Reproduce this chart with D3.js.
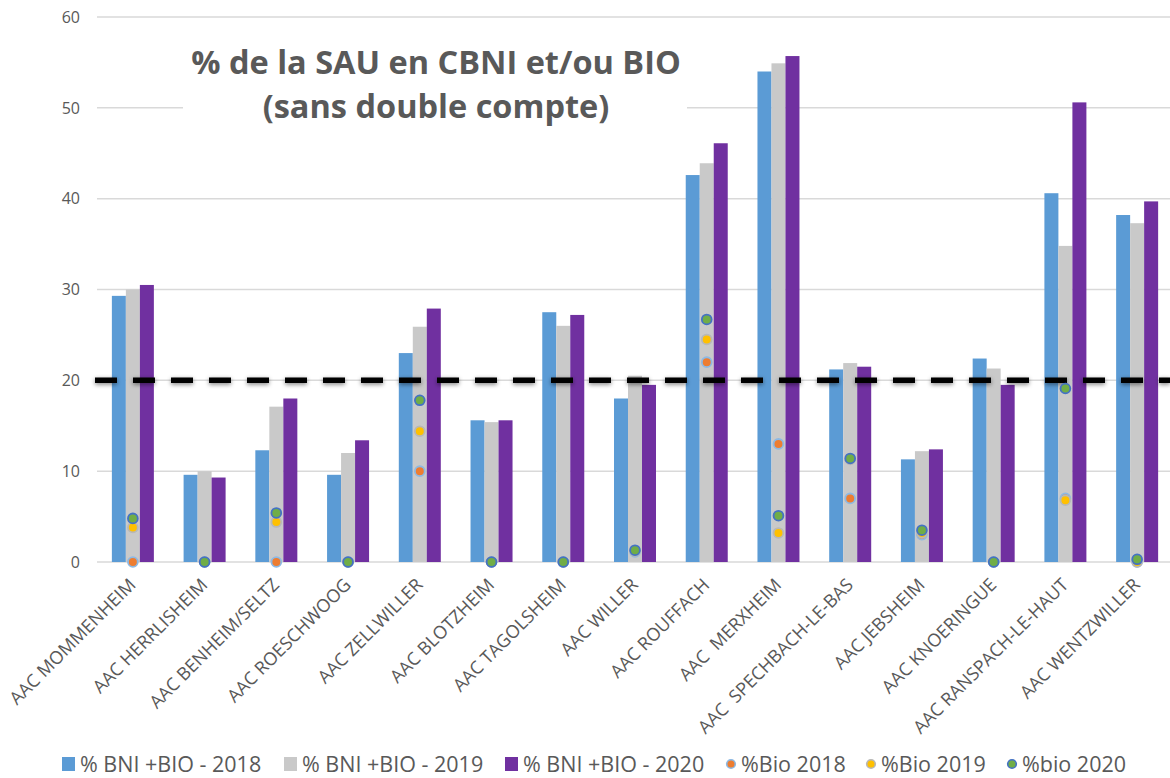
<!DOCTYPE html>
<html>
<head>
<meta charset="utf-8">
<script src="https://cdn.jsdelivr.net/npm/d3@7"></script>
<style>
  html, body { margin: 0; padding: 0; background: #fff; }
  svg text { font-family: "Open Sans", "Liberation Sans", sans-serif; }
</style>
</head>
<body>
<div id="chart"></div>
<script>
// categories (double spaces kept as in the original labels)
const categories = [
  "AAC MOMMENHEIM", "AAC HERRLISHEIM", "AAC BENHEIM/SELTZ", "AAC ROESCHWOOG",
  "AAC ZELLWILLER", "AAC BLOTZHEIM", "AAC TAGOLSHEIM", "AAC WILLER",
  "AAC ROUFFACH", "AAC  MERXHEIM", "AAC  SPECHBACH-LE-BAS", "AAC JEBSHEIM",
  "AAC KNOERINGUE", "AAC RANSPACH-LE-HAUT", "AAC WENTZWILLER"
];

// % BNI + BIO (bars)
const bni2018 = [29.3, 9.6, 12.3, 9.6, 23.0, 15.6, 27.5, 18.0, 42.6, 54.0, 21.2, 11.3, 22.4, 40.6, 38.2];
const bni2019 = [30.0, 10.0, 17.1, 12.0, 25.9, 15.4, 26.0, 20.5, 43.9, 54.9, 21.9, 12.2, 21.3, 34.8, 37.3];
const bni2020 = [30.5, 9.3, 18.0, 13.4, 27.9, 15.6, 27.2, 19.5, 46.1, 55.7, 21.5, 12.4, 19.5, 50.6, 39.7];

// %Bio (points)
const bio2018 = [0, 0, 0, 0, 10.0, 0, 0, 1.1, 22.0, 13.0, 7.0, 3.0, 0, 7.0, 0];
const bio2019 = [3.8, 0, 4.4, 0, 14.4, 0, 0, 1.2, 24.5, 3.2, 11.3, 3.2, 0, 6.8, 0];
const bio2020 = [4.8, 0, 5.4, 0, 17.8, 0, 0, 1.3, 26.7, 5.1, 11.4, 3.5, 0, 19.1, 0.3];

const yTicks = [0, 10, 20, 30, 40, 50, 60];
const threshold = 20;
const titleLines = ["% de la SAU en CBNI et/ou BIO", "(sans double compte)"];

const barSeries = [
  { name: "% BNI +BIO - 2018", values: bni2018, color: "#5B9BD5" },
  { name: "% BNI +BIO - 2019", values: bni2019, color: "#C9C9C9" },
  { name: "% BNI +BIO - 2020", values: bni2020, color: "#7030A0" }
];
const dotSeries = [
  { name: "%Bio 2018", values: bio2018, fill: "#ED7D31", stroke: "#8DB9E4" },
  { name: "%Bio 2019", values: bio2019, fill: "#FFC000", stroke: "#B8B8B8" },
  { name: "%bio 2020", values: bio2020, fill: "#70AD47", stroke: "#4472C4" }
];

const W = 1170, H = 778;
const m = { l: 97, r: -3, t: 17, b: 216 };
const svg = d3.select("#chart").append("svg").attr("width", W).attr("height", H);

const x = d3.scaleBand().domain(categories).range([m.l, W - m.r]);
const y = d3.scaleLinear().domain([0, 60]).range([H - m.b, m.t]);
const x1 = d3.scaleBand().domain(barSeries.map(s => s.name))
  .range([x.bandwidth() / 2 - 21, x.bandwidth() / 2 + 21]);

const ink = "#595959";

// gridlines
svg.append("g").selectAll("line").data(yTicks).join("line")
  .attr("x1", m.l).attr("x2", W)
  .attr("y1", d => y(d)).attr("y2", d => y(d))
  .attr("stroke", "#D9D9D9").attr("stroke-width", 1.5);

// y tick labels
svg.append("g").selectAll("text").data(yTicks).join("text")
  .attr("x", 80).attr("y", d => y(d)).attr("dy", "0.36em")
  .attr("text-anchor", "end")
  .style("font-size", "16px").style("fill", ink)
  .text(d => d);

// title box (white, hides the gridline behind it)
svg.append("rect").attr("x", 183).attr("y", 40).attr("width", 504).attr("height", 100).attr("fill", "#fff");
svg.append("g").selectAll("text").data(titleLines).join("text")
  .attr("x", 436).attr("y", (d, i) => 74 + i * 44)
  .attr("text-anchor", "middle")
  .style("font-size", "32.5px").style("font-weight", 700).style("fill", ink)
  .text(d => d);

// bars
const groups = svg.append("g").selectAll("g").data(categories).join("g")
  .attr("transform", d => `translate(${x(d)},0)`);
barSeries.forEach(s => {
  groups.append("rect")
    .attr("x", x1(s.name))
    .attr("width", x1.bandwidth())
    .attr("y", (d, i) => y(s.values[i]))
    .attr("height", (d, i) => y(0) - y(s.values[i]))
    .attr("fill", s.color);
});

// dashed threshold line with soft shadow
const defs = svg.append("defs");
defs.append("filter").attr("id", "blur").attr("filterUnits", "userSpaceOnUse")
  .attr("x", 0).attr("y", 0).attr("width", W).attr("height", H)
  .append("feGaussianBlur").attr("stdDeviation", 2.2);

svg.append("line")
  .attr("x1", 95).attr("x2", W)
  .attr("y1", y(threshold) + 1.5).attr("y2", y(threshold) + 1.5)
  .attr("stroke", "#000").attr("stroke-opacity", 0.45).attr("stroke-width", 6)
  .attr("stroke-dasharray", "22 16")
  .attr("filter", "url(#blur)");
svg.append("line")
  .attr("x1", 95).attr("x2", W)
  .attr("y1", y(threshold)).attr("y2", y(threshold))
  .attr("stroke", "#000").attr("stroke-width", 5.5)
  .attr("stroke-dasharray", "22 16");

// dots
dotSeries.forEach(s => {
  svg.append("g").selectAll("circle").data(categories).join("circle")
    .attr("cx", d => x(d) + x.bandwidth() / 2)
    .attr("cy", (d, i) => y(s.values[i]))
    .attr("r", 4.9)
    .attr("fill", s.fill)
    .attr("stroke", s.stroke).attr("stroke-width", 1.8);
});

// x labels, rotated
svg.append("g").selectAll("text").data(categories).join("text")
  .attr("transform", d => `translate(${x(d) + x.bandwidth() / 2 + 4},${y(0) + 24}) rotate(-45)`)
  .attr("text-anchor", "end")
  .style("white-space", "pre")
  .style("font-size", "18px").style("fill", ink)
  .text(d => d);

// legend (marker x positions as in the original layout)
const legendX = [62, 284, 505, 726, 866, 1007];
const legend = svg.append("g").attr("transform", "translate(0,764)");
const items = barSeries.map(s => ({ name: s.name, type: "rect", fill: s.color }))
  .concat(dotSeries.map(s => ({ name: s.name, type: "dot", fill: s.fill, stroke: s.stroke })));
items.forEach((it, i) => {
  const lx = legendX[i];
  let tx;
  if (it.type === "rect") {
    legend.append("rect").attr("x", lx).attr("y", -7).attr("width", 13).attr("height", 14).attr("fill", it.fill);
    tx = lx + 18;
  } else {
    legend.append("circle").attr("cx", lx + 5).attr("cy", 0).attr("r", 4.3)
      .attr("fill", it.fill).attr("stroke", it.stroke).attr("stroke-width", 1.6);
    tx = lx + 15;
  }
  legend.append("text").attr("x", tx).attr("y", 0).attr("dy", "0.36em")
    .style("font-size", "21.5px").style("fill", ink).text(it.name);
});
</script>
</body>
</html>
